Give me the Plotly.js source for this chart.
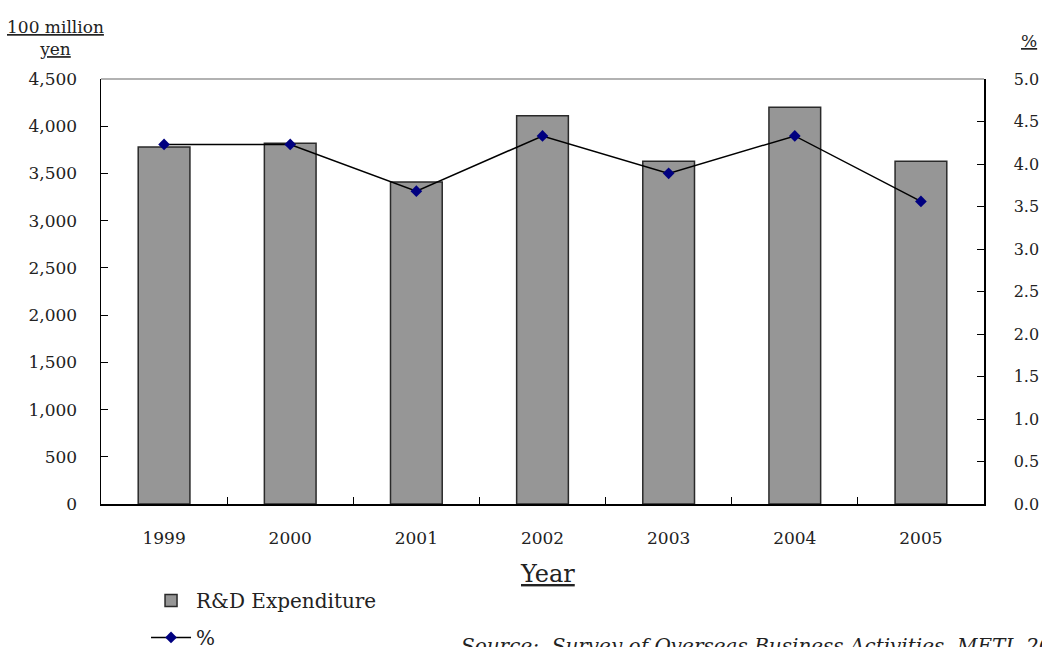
<!DOCTYPE html>
<html>
<head>
<meta charset="utf-8">
<script src="https://cdn.plot.ly/plotly-3.0.1.min.js"></script>
<style>html,body{margin:0;padding:0;background:#fff;}#chart{width:1042px;height:647px;}</style>
</head>
<body>
<div id="chart"></div>
<script>
const years = ["1999", "2000", "2001", "2002", "2003", "2004", "2005"];
const rdExpenditure = [3780, 3820, 3410, 4110, 3630, 4200, 3630];
const ratioPercent = [4.23, 4.23, 3.68, 4.33, 3.89, 4.33, 3.56];
const leftTicks = [0, 500, 1000, 1500, 2000, 2500, 3000, 3500, 4000, 4500];
const rightTicks = [0, 0.5, 1, 1.5, 2, 2.5, 3, 3.5, 4, 4.5, 5];

const FONT = "DejaVu Serif, Liberation Serif, serif";
const TXT = "#222";

const traces = [
  {
    type: "bar",
    name: "R&D Expenditure",
    x: years,
    y: rdExpenditure,
    width: 0.41,
    marker: {color: "#969696", line: {color: "#2a2a2a", width: 1.5}},
    legendgroup: "a",
    hoverinfo: "x+y"
  },
  {
    type: "scatter",
    mode: "lines+markers",
    name: "%",
    x: years,
    y: ratioPercent,
    yaxis: "y2",
    line: {color: "#000", width: 1.5},
    marker: {symbol: "diamond", color: "#000080", size: 9},
    legendgroup: "b",
    hoverinfo: "x+y"
  }
];

const layout = {
  width: 1042,
  height: 647,
  margin: {l: 101, r: 58, t: 79, b: 143, pad: 0, autoexpand: false},
  paper_bgcolor: "#fff",
  plot_bgcolor: "#fff",
  font: {family: FONT, color: TXT, size: 17},
  showlegend: true,
  bargap: 0.59,
  xaxis: {
    type: "category",
    showline: true, linecolor: "#000", linewidth: 1.5,
    ticks: "inside", tickson: "boundaries", ticklen: 7, tickcolor: "#000", tickwidth: 1,
    ticklabelstandoff: 18,
    tickfont: {family: FONT, size: 17, color: TXT},
    showgrid: false, zeroline: false,
    automargin: false,
    fixedrange: true
  },
  yaxis: {
    range: [0, 4500],
    tickvals: leftTicks,
    ticktext: leftTicks.map(v => v.toLocaleString("en-US")),
    showline: true, linecolor: "#000", linewidth: 1.5,
    ticks: "inside", ticklen: 7, tickcolor: "#000", tickwidth: 1,
    ticklabelstandoff: 19,
    tickfont: {family: FONT, size: 17, color: TXT},
    showgrid: false, zeroline: false,
    automargin: false
  },
  yaxis2: {
    overlaying: "y",
    side: "right",
    range: [0, 5],
    tickvals: rightTicks,
    ticktext: rightTicks.map(v => v.toFixed(1)),
    showline: true, linecolor: "#000", linewidth: 1.5,
    ticks: "inside", ticklen: 7, tickcolor: "#000", tickwidth: 1,
    ticklabelstandoff: 25,
    tickfont: {family: FONT, size: 16, color: TXT},
    showgrid: false, zeroline: false,
    automargin: false
  },
  legend: {
    orientation: "v",
    x: 0.051, xanchor: "left",
    y: -0.181, yanchor: "top",
    traceorder: "grouped",
    tracegroupgap: 8,
    itemwidth: 40,
    font: {family: FONT, size: 20, color: TXT},
    bgcolor: "rgba(0,0,0,0)"
  },
  shapes: [
    {type: "line", xref: "paper", yref: "paper", x0: 0, x1: 1, y0: 1, y1: 1,
     line: {color: "#999", width: 1.5}}
  ],
  annotations: [
    {text: "<u>100 million</u><br><u>yen</u>", xref: "paper", yref: "paper",
     x: -0.052, y: 1.0, xanchor: "center", yanchor: "bottom", yshift: 18,
     showarrow: false, font: {family: FONT, size: 17, color: TXT}, align: "center"},
    {text: "<u>%</u>", xref: "paper", yref: "paper",
     x: 1.0505, y: 1.0, xanchor: "center", yanchor: "bottom", yshift: 26,
     showarrow: false, font: {family: FONT, size: 17, color: TXT}},
    {text: "<u>Year</u>", xref: "paper", yref: "paper",
     x: 0.5057, y: 0, xanchor: "center", yanchor: "top", yshift: -54,
     showarrow: false, font: {family: FONT, size: 24, color: TXT}},
    {text: "<i>Source:  Survey of Overseas Business Activities, METI, 20</i>", xref: "paper", yref: "paper",
     x: 0.405, y: 0, xanchor: "left", yanchor: "top", yshift: -128,
     showarrow: false, font: {family: FONT, size: 20, color: TXT}}
  ]
};

Plotly.newPlot("chart", traces, layout, {displayModeBar: false, staticPlot: true});
</script>
</body>
</html>
